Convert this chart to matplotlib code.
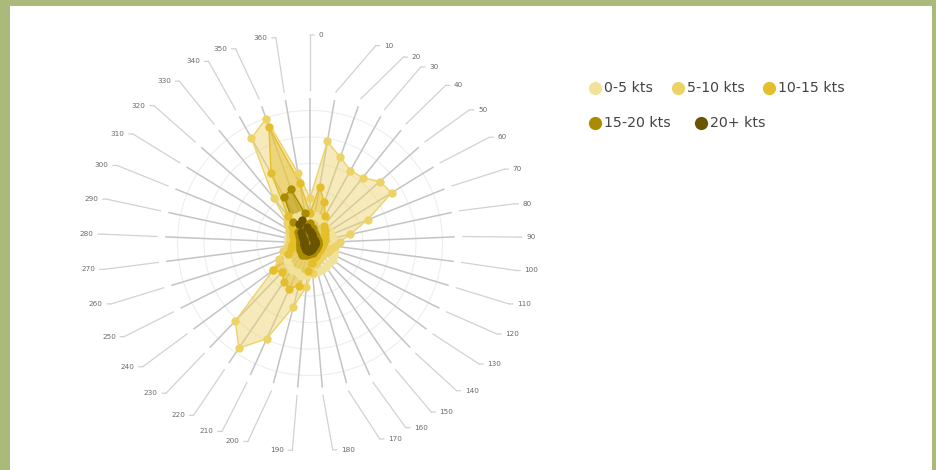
import numpy as np
import matplotlib
matplotlib.use("Agg")
import matplotlib.pyplot as plt
from matplotlib.patches import Rectangle
from matplotlib.lines import Line2D

# ---------------- data ----------------
directions = [str(d) for d in range(0, 361, 10)]   # 37 categories
series_names = ["0-5 kts", "5-10 kts", "10-15 kts", "15-20 kts", "20+ kts"]
colors = ["#F2E19B", "#EDD266", "#E4BE2B", "#AB8C00", "#6A5400"]

kts_0_5 = [2.5, 2.8, 2.6, 2.4, 2.3, 2.2, 2.2, 2.3, 2.4, 2.5, 2.5, 2.6, 2.7, 2.8, 2.8, 2.9,
           3.0, 3.0, 3.1, 3.2, 3.4, 3.2, 3.2, 3.0, 2.8, 2.6, 2.4, 2.3, 2.2, 2.2, 2.3, 2.4,
           2.6, 2.8, 3.0, 3.0, 2.8]
kts_5_10 = [4.5, 10.3, 9.1, 8.3, 8.4, 9.3, 9.6, 6.2, 4.1, 3.0, 2.5, 2.2, 2.0, 1.8, 1.8, 1.8,
            2.0, 2.2, 3.0, 4.4, 6.6, 10.5, 12.7, 10.8, 4.6, 3.5, 2.8, 2.2, 2.0, 2.0, 2.2, 2.5,
            3.0, 5.8, 12.0, 13.2, 7.1]
kts_10_15 = [3.0, 5.7, 4.3, 3.1, 2.2, 2.0, 1.8, 1.6, 1.5, 1.4, 1.3, 1.2, 1.2, 1.2, 1.2, 1.3,
             1.4, 1.6, 2.0, 2.8, 4.4, 5.0, 4.7, 4.0, 4.6, 2.5, 2.0, 1.8, 1.6, 1.6, 1.8, 2.0,
             2.4, 3.5, 8.0, 12.3, 6.1]
kts_15_20 = [2.0, 1.5, 1.2, 1.0, 0.9, 0.8, 0.8, 0.8, 0.8, 0.8, 0.8, 0.8, 0.8, 0.8, 0.8, 0.8,
             0.9, 1.0, 1.0, 1.1, 1.2, 1.3, 1.4, 1.3, 1.2, 1.1, 1.0, 1.0, 1.0, 1.0, 1.1, 1.3,
             1.6, 2.7, 5.3, 5.7, 3.0]
kts_20_plus = [1.2, 0.9, 0.7, 0.6, 0.5, 0.5, 0.5, 0.5, 0.5, 0.5, 0.5, 0.5, 0.5, 0.5, 0.5, 0.5,
               0.5, 0.6, 0.7, 0.8, 0.8, 0.8, 0.8, 0.7, 0.6, 0.6, 0.6, 0.6, 0.6, 0.6, 0.7, 0.8,
               1.0, 1.4, 2.2, 2.4, 1.6]
series_values = [kts_0_5, kts_5_10, kts_10_15, kts_15_20, kts_20_plus]

# ---------------- layout ----------------
W, H = 937, 470
fig = plt.figure(figsize=(W / 100, H / 100), dpi=100)
fig.patch.set_facecolor("#AABA7A")
fig.add_artist(Rectangle((10 / W, 0), (932 - 10) / W, (470 - 6) / H,
                         transform=fig.transFigure, facecolor="white",
                         edgecolor="none", zorder=0))

cx, cy, Rax = 310, 243, 215          # pixel centre and axes radius
ax = fig.add_axes([(cx - Rax) / W, (H - cy - Rax) / H, 2 * Rax / W, 2 * Rax / H],
                  projection="polar")
ax.set_theta_zero_location("N")
ax.set_theta_direction(-1)
ax.patch.set_alpha(0)
ax.spines["polar"].set_visible(False)
ax.grid(False)
ax.set_xticks([])
ax.set_yticks([])
r_top = 21.5
ax.set_ylim(0, r_top)

n = len(directions)
theta = np.arange(n) * 2 * np.pi / n
r_spoke = 14.5
r_lead0 = 15.3
r_label = 20.8

# faint ring grid
ring_t = np.linspace(0, 2 * np.pi, 361)
for rr in [2.65, 5.3, 7.95, 10.6, 13.25]:
    ax.plot(ring_t, np.full_like(ring_t, rr), color="#eeeeee", lw=0.8, zorder=1)

# spokes
for t in theta:
    ax.plot([t, t], [0, r_spoke], color="#c4c4c4", lw=1.1, zorder=2,
            solid_capstyle="butt")

# label angle adjustments (degrees) for collision avoidance
label_shift = [0, 8.7, 7.2, 3.0, 1.8, 1.5, 1.1, 1.1, 1.3, 0.8, 0.3, 0, -0.8, -0.9, -1.0,
               -1.6, -3.1, -5.0, -1.4, 0, 2.8, 0.7, 0, 0, 0, 0, 0, 0, 0, 0, 0, 0, 0, 0,
               0, -1.5, 0.3]
for i, (t, lab) in enumerate(zip(theta, directions)):
    tl = t + np.deg2rad(label_shift[i])
    ax.plot([t, tl], [r_lead0, r_label], color="#d2d2d2", lw=0.9, zorder=2,
            clip_on=False)
    deg = np.rad2deg(tl) % 360
    right = (deg < 180) or i == 0
    ax.annotate(lab, xy=(tl, r_label), xytext=(6 if right else -6, 0),
                textcoords="offset points", ha="left" if right else "right",
                va="center", fontsize=5.2, color="#6a6a6a", annotation_clip=False,
                arrowprops=dict(arrowstyle="-", color="#d2d2d2", lw=0.9,
                                shrinkA=1, shrinkB=0))

# series polygons
tc = np.append(theta, theta[0])
for name, vals, col in zip(series_names, series_values, colors):
    v = np.array(vals + vals[:1])
    ax.fill(tc, v, color=col, alpha=0.45, lw=0, zorder=3)
    ax.plot(tc, v, color=col, lw=1.0, zorder=4)
    ax.plot(theta, vals, "o", color=col, ms=6, mec="none", zorder=5)

# legend (manual)
leg_rows = [(88, [(595, 0), (678, 1), (769, 2)]), (123, [(595, 3), (701, 4)])]
for y, items in leg_rows:
    for x, idx in items:
        fig.add_artist(Line2D([x / W], [1 - y / H], marker="o", ms=9.5,
                              color=colors[idx], mec="none", ls="none",
                              transform=fig.transFigure))
        fig.text((x + 9) / W, 1 - y / H, series_names[idx], fontsize=10.2,
                 color="#444444", va="center", ha="left")

fig.savefig("out.png", dpi=100, facecolor=fig.get_facecolor())
